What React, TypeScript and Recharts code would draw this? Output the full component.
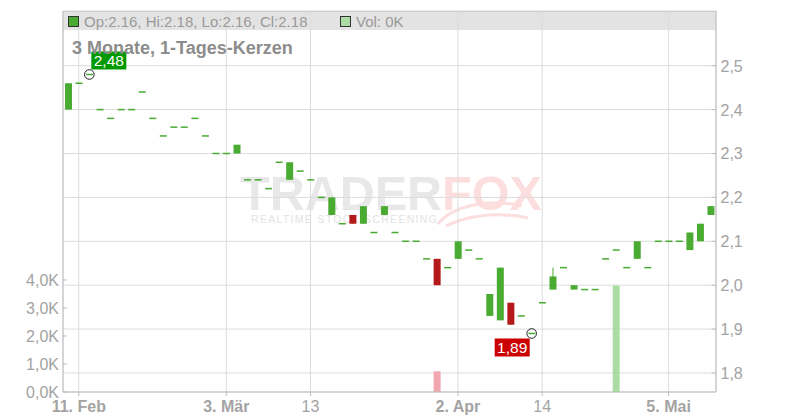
import {
  Bar,
  CartesianGrid,
  Cell,
  ComposedChart,
  ReferenceDot,
  XAxis,
  YAxis,
} from "recharts";

const dates = [
  "2025-02-10", "2025-02-11", "2025-02-12", "2025-02-13", "2025-02-14",
  "2025-02-17", "2025-02-18", "2025-02-19", "2025-02-20", "2025-02-21",
  "2025-02-24", "2025-02-25", "2025-02-26", "2025-02-27", "2025-02-28",
  "2025-03-03", "2025-03-04", "2025-03-05", "2025-03-06", "2025-03-07",
  "2025-03-10", "2025-03-11", "2025-03-12", "2025-03-13", "2025-03-14",
  "2025-03-17", "2025-03-18", "2025-03-19", "2025-03-20", "2025-03-21",
  "2025-03-24", "2025-03-25", "2025-03-26", "2025-03-27", "2025-03-28",
  "2025-03-31", "2025-04-01", "2025-04-02", "2025-04-03", "2025-04-04",
  "2025-04-07", "2025-04-08", "2025-04-09", "2025-04-10", "2025-04-11",
  "2025-04-14", "2025-04-15", "2025-04-16", "2025-04-17", "2025-04-22",
  "2025-04-23", "2025-04-24", "2025-04-25", "2025-04-28", "2025-04-29",
  "2025-04-30", "2025-05-02", "2025-05-05", "2025-05-06", "2025-05-07",
  "2025-05-08", "2025-05-09",
];

const opens = [
  2.40, 2.46, 2.48, 2.40, 2.38, 2.40, 2.40, 2.44, 2.38, 2.34,
  2.36, 2.36, 2.38, 2.34, 2.30, 2.30, 2.30, 2.24, 2.24, 2.22,
  2.28, 2.24, 2.26, 2.24, 2.20, 2.16, 2.14, 2.16, 2.14, 2.12,
  2.16, 2.12, 2.10, 2.10, 2.06, 2.06, 2.04, 2.06, 2.08, 2.06,
  1.93, 1.92, 1.96, 1.93, 1.89, 1.96, 1.99, 2.04, 1.99, 1.99,
  1.99, 2.06, 2.08, 2.04, 2.06, 2.04, 2.10, 2.10, 2.10, 2.08,
  2.10, 2.16,
];

const highs = [
  2.46, 2.46, 2.48, 2.40, 2.38, 2.40, 2.40, 2.44, 2.38, 2.34,
  2.36, 2.36, 2.38, 2.34, 2.30, 2.30, 2.32, 2.24, 2.24, 2.22,
  2.28, 2.28, 2.26, 2.24, 2.20, 2.20, 2.14, 2.16, 2.18, 2.12,
  2.18, 2.12, 2.10, 2.10, 2.06, 2.06, 2.04, 2.10, 2.08, 2.06,
  1.98, 2.04, 1.96, 1.93, 1.89, 1.96, 2.04, 2.04, 2.00, 1.99,
  1.99, 2.06, 2.08, 2.04, 2.10, 2.04, 2.10, 2.10, 2.10, 2.12,
  2.14, 2.18,
];

const lows = [
  2.40, 2.46, 2.48, 2.40, 2.38, 2.40, 2.40, 2.44, 2.38, 2.34,
  2.36, 2.36, 2.38, 2.34, 2.30, 2.30, 2.30, 2.24, 2.24, 2.22,
  2.28, 2.24, 2.26, 2.24, 2.20, 2.16, 2.14, 2.14, 2.14, 2.12,
  2.16, 2.12, 2.10, 2.10, 2.06, 2.00, 2.04, 2.06, 2.08, 2.06,
  1.93, 1.92, 1.91, 1.93, 1.89, 1.96, 1.99, 2.04, 1.99, 1.99,
  1.99, 2.06, 2.08, 2.04, 2.06, 2.04, 2.10, 2.10, 2.10, 2.08,
  2.10, 2.16,
];

const closes = [
  2.46, 2.46, 2.48, 2.40, 2.38, 2.40, 2.40, 2.44, 2.38, 2.34,
  2.36, 2.36, 2.38, 2.34, 2.30, 2.30, 2.32, 2.24, 2.24, 2.22,
  2.28, 2.28, 2.26, 2.24, 2.20, 2.20, 2.14, 2.14, 2.18, 2.12,
  2.18, 2.12, 2.10, 2.10, 2.06, 2.00, 2.04, 2.10, 2.08, 2.06,
  1.98, 2.04, 1.91, 1.93, 1.89, 1.96, 2.02, 2.04, 2.00, 1.99,
  1.99, 2.06, 2.08, 2.04, 2.10, 2.04, 2.10, 2.10, 2.10, 2.12,
  2.14, 2.18,
];

const volumes = [
  0, 0, 0, 0, 0, 0, 0, 0, 0, 0,
  0, 0, 0, 0, 0, 0, 0, 0, 0, 0,
  0, 0, 0, 0, 0, 0, 0, 0, 0, 0,
  0, 0, 0, 0, 0, 740, 0, 0, 0, 0,
  0, 0, 0, 0, 0, 0, 0, 0, 0, 0,
  0, 0, 3800, 0, 0, 0, 0, 0, 0, 0,
  0, 0,
];

const tickDates = ["2025-02-11", "2025-03-03", "2025-03-13", "2025-04-02", "2025-04-14", "2025-05-05"];
const tickLabels = ["11. Feb", "3. Mär", "13", "2. Apr", "14", "5. Mai"];
const priceTicks = [1.8, 1.9, 2.0, 2.1, 2.2, 2.3, 2.4, 2.5];
const volumeTicks = [0, 1000, 2000, 3000, 4000];

const GREEN = "#4aab33";
const RED = "#b51a1a";
const VOL_GREEN = "#abdca4";
const VOL_RED = "#f2a7b0";
const AXIS = "#bdbdbd";
const GRID = "#dcdcdc";
const LABEL = "#a3a3a3";
const FONT = "'Liberation Sans', Arial, sans-serif";

const PLOT_LEFT = 63;
const PLOT_RIGHT = 716;
const PLOT_TOP = 11;
const PLOT_BOTTOM = 392;

const rows = dates.map((date, i) => ({
  date,
  open: opens[i],
  high: highs[i],
  low: lows[i],
  close: closes[i],
  range: [lows[i], highs[i]],
  volume: volumes[i],
}));

const last = rows.length - 1;
const maxIdx = highs.indexOf(Math.max(...highs));
const minIdx = lows.indexOf(Math.min(...lows));

const fmtComma = (v: number, d: number) => v.toFixed(d).replace(".", ",");

function Candle(props: any) {
  const { x, y, width, height, payload } = props;
  if (x == null || y == null || !payload) return null;
  const { open, close, high, low } = payload;
  const color = close < open ? RED : GREEN;
  const top = Math.min(y, y + height);
  const span = Math.abs(height);
  if (high === low || span === 0) {
    return <rect x={x} y={top - 0.75} width={width} height={1.5} fill={color} />;
  }
  const k = span / (high - low);
  const yOf = (p: number) => top + (high - p) * k;
  const bodyTop = yOf(Math.max(open, close));
  const bodyBottom = yOf(Math.min(open, close));
  const cx = x + width / 2;
  return (
    <g>
      <line x1={cx} x2={cx} y1={top} y2={top + span} stroke={color} strokeWidth={1} />
      {bodyBottom - bodyTop < 1.5 ? (
        <rect x={x} y={bodyTop - 0.75} width={width} height={1.5} fill={color} />
      ) : (
        <rect x={x} y={bodyTop} width={width} height={bodyBottom - bodyTop} fill={color} />
      )}
    </g>
  );
}

function Marker({ cx, cy, value, above }: { cx: number; cy: number; value: number; above: boolean }) {
  if (cx == null || cy == null) return null;
  const w = 35;
  const h = 18;
  const bx = above ? cx + 2 : cx - 2 - w;
  const by = above ? cy - 5 - h : cy + 5;
  return (
    <g>
      <rect x={bx} y={by} width={w} height={h} fill={above ? "#009a00" : "#cc0000"} />
      <text
        x={bx + w / 2}
        y={by + h - 3}
        textAnchor="middle"
        fill="#fff"
        fontSize={15.5}
        fontFamily={FONT}
      >
        {fmtComma(value, 2)}
      </text>
      <circle cx={cx} cy={cy} r={4.8} fill="none" stroke="#222" strokeWidth={1} />
    </g>
  );
}

function DateTick(props: any) {
  const { x, payload } = props;
  const label = tickLabels[tickDates.indexOf(payload.value)] ?? "";
  const bold = label.includes(".");
  return (
    <g>
      <line x1={x} x2={x} y1={PLOT_BOTTOM} y2={PLOT_BOTTOM + 4} stroke={AXIS} />
      <text
        x={x}
        y={PLOT_BOTTOM + 20}
        textAnchor="middle"
        fill={LABEL}
        fontSize={16}
        fontWeight={bold ? "bold" : "normal"}
        fontFamily={FONT}
      >
        {label}
      </text>
    </g>
  );
}

function VolumeTick(props: any) {
  const { y, payload } = props;
  return (
    <g>
      <line x1={PLOT_LEFT} x2={PLOT_LEFT + 4} y1={y} y2={y} stroke={AXIS} />
      <text x={PLOT_LEFT - 4} y={y + 6} textAnchor="end" fill={LABEL} fontSize={16} fontFamily={FONT}>
        {fmtComma(payload.value / 1000, 1)}K
      </text>
    </g>
  );
}

function PriceTick(props: any) {
  const { y, payload } = props;
  return (
    <g>
      <line x1={PLOT_RIGHT - 4.5} x2={PLOT_RIGHT} y1={y} y2={y} stroke={AXIS} />
      <text x={PLOT_RIGHT + 4.5} y={y + 6} textAnchor="start" fill={LABEL} fontSize={16} fontFamily={FONT}>
        {fmtComma(payload.value, 1)}
      </text>
    </g>
  );
}

export default function App() {
  const lastRow = rows[last];
  const layer = { position: "absolute" as const, left: 0, top: 0 };
  return (
    <div style={{ position: "absolute", left: 0, top: 0, width: 800, height: 420, background: "#fff", fontFamily: FONT }}>
      <svg width={800} height={420} style={layer}>
        <rect
          x={PLOT_LEFT}
          y={PLOT_TOP}
          width={PLOT_RIGHT - PLOT_LEFT}
          height={19}
          fill="#e3e3e3"
        />
        <line x1={PLOT_LEFT} x2={PLOT_RIGHT} y1={PLOT_TOP + 0.5} y2={PLOT_TOP + 0.5} stroke={AXIS} />
        <text x={240} y={210} fontSize={48.5} fontWeight="bold" fontFamily={FONT}>
          <tspan fill="#e8e8e8">TRADER</tspan>
          <tspan fill="#fcdede">FOX</tspan>
        </text>
        <text x={251} y={223} fontSize={10.5} letterSpacing={1.3} fill="#e3e3e3" fontFamily={FONT}>
          REALTIME STOCK SCREENING
        </text>
        <path
          d="M 438 224 C 452 206, 488 198, 522 206 M 446 226 C 470 214, 500 212, 528 218"
          fill="none"
          stroke="#fcdede"
          strokeWidth={3}
        />
      </svg>

      <div style={layer}>
        <ComposedChart
          width={800}
          height={420}
          data={rows}
          margin={{ top: PLOT_TOP, right: 800 - PLOT_RIGHT - 1, bottom: 420 - PLOT_BOTTOM - 1, left: PLOT_LEFT - 1 }}
          barGap={0}
          barCategoryGap={0}
        >
          <CartesianGrid xAxisId="price" yAxisId="price" stroke={GRID} />
          <XAxis
            xAxisId="price"
            dataKey="date"
            height={1}
            ticks={tickDates}
            interval={0}
            tick={<DateTick />}
            tickLine={false}
            axisLine={{ stroke: AXIS }}
          />
          <XAxis xAxisId="vol" dataKey="date" hide />
          <YAxis
            yAxisId="vol"
            orientation="left"
            width={1}
            domain={[0, 13607]}
            ticks={volumeTicks}
            interval={0}
            tick={<VolumeTick />}
            tickLine={false}
            axisLine={{ stroke: AXIS }}
          />
          <YAxis
            yAxisId="price"
            orientation="right"
            width={1}
            domain={[1.7567, 2.6246]}
            ticks={priceTicks}
            interval={0}
            tick={<PriceTick />}
            tickLine={false}
            axisLine={{ stroke: AXIS }}
          />
          <Bar xAxisId="vol" yAxisId="vol" dataKey="volume" barSize={7} isAnimationActive={false}>
            {rows.map((r) => (
              <Cell key={r.date} fill={r.close < r.open ? VOL_RED : VOL_GREEN} />
            ))}
          </Bar>
          <Bar
            xAxisId="price"
            yAxisId="price"
            dataKey="range"
            barSize={7}
            shape={<Candle />}
            isAnimationActive={false}
          />
          <ReferenceDot
            xAxisId="price"
            yAxisId="price"
            x={dates[maxIdx]}
            y={highs[maxIdx]}
            r={5}
            shape={(p: any) => <Marker cx={p.cx} cy={p.cy} value={highs[maxIdx]} above />}
          />
          <ReferenceDot
            xAxisId="price"
            yAxisId="price"
            x={dates[minIdx]}
            y={lows[minIdx]}
            r={5}
            shape={(p: any) => <Marker cx={p.cx} cy={p.cy} value={lows[minIdx]} above={false} />}
          />
        </ComposedChart>
      </div>

      <svg width={800} height={420} style={{ ...layer, pointerEvents: "none" }}>
        <rect x={68.5} y={16.5} width={10} height={10} fill={GREEN} stroke="#333" />
        <text x={84} y={27} fontSize={15} fill="#9a9a9a" fontFamily={FONT}>
          {`Op:${lastRow.open.toFixed(2)}, Hi:${lastRow.high.toFixed(2)}, Lo:${lastRow.low.toFixed(2)}, Cl:${lastRow.close.toFixed(2)}`}
        </text>
        <rect x={340.5} y={16.5} width={10} height={10} fill={VOL_GREEN} stroke="#333" />
        <text x={356} y={27} fontSize={15} fill="#9a9a9a" fontFamily={FONT}>
          {`Vol: ${Math.round(lastRow.volume / 1000)}K`}
        </text>
        <text x={72} y={54} fontSize={18} fontWeight="bold" fill="#8c8c8c" fontFamily={FONT}>
          3 Monate, 1-Tages-Kerzen
        </text>
      </svg>
    </div>
  );
}
